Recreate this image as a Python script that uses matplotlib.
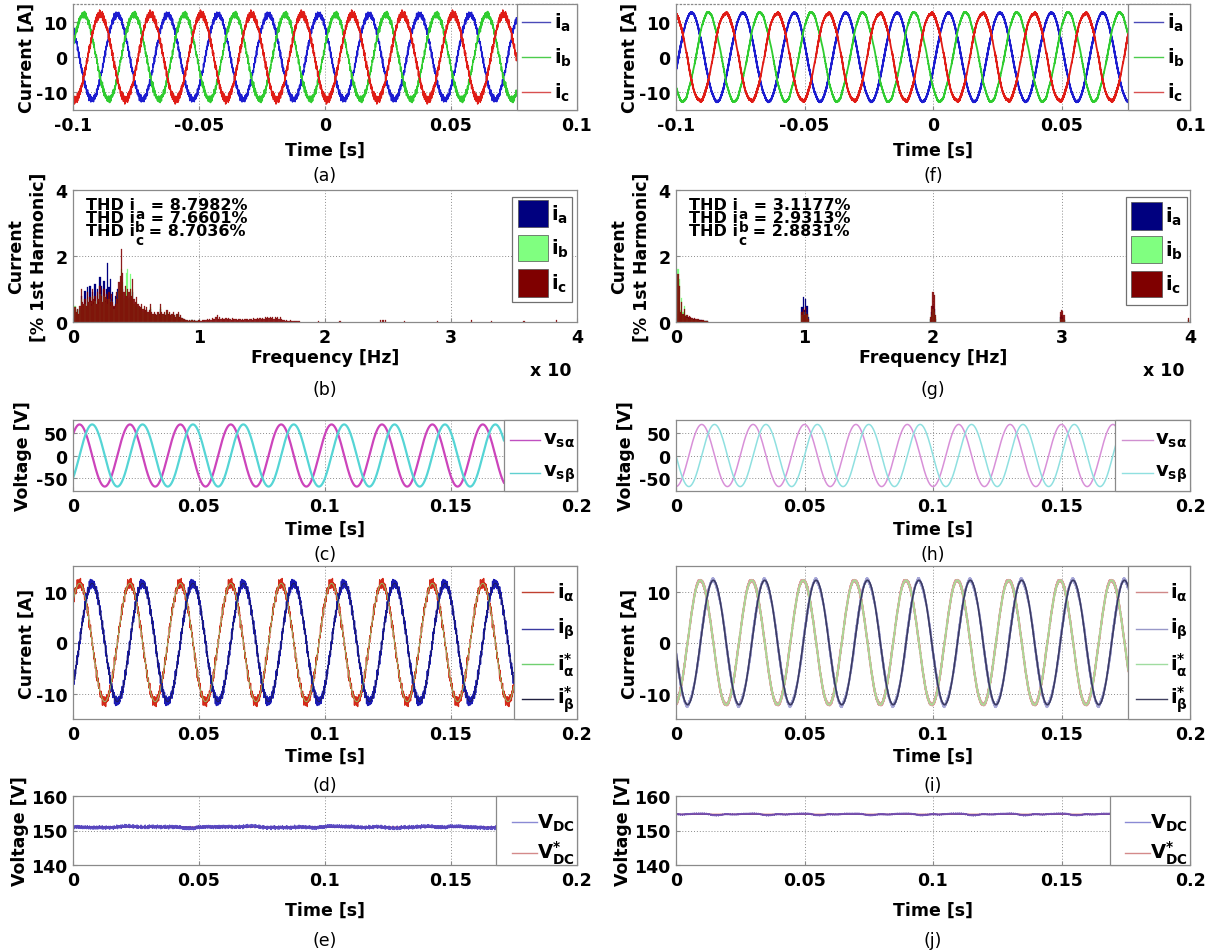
import numpy as np
import matplotlib
matplotlib.use('Agg')
import matplotlib.pyplot as plt
from matplotlib.patches import Rectangle
from matplotlib.lines import Line2D
from matplotlib.transforms import offset_copy

plt.rcParams['font.family'] = ['DejaVu Sans']
plt.rcParams['font.weight'] = 'bold'
plt.rcParams['axes.unicode_minus'] = False
plt.rcParams['mathtext.fontset'] = 'custom'
plt.rcParams['mathtext.rm'] = 'DejaVu Sans:bold'
plt.rcParams['mathtext.it'] = 'DejaVu Sans:bold'
plt.rcParams['mathtext.bf'] = 'DejaVu Sans:bold'
plt.rcParams['mathtext.sf'] = 'DejaVu Sans:bold'

# ----------------------------------------------------------------- data
F_FUND = 50.0            # Hz
DT = 1 / 40000.0         # sampling step [s]

# (a)/(f) three-phase currents: amplitude [A], time of i_a peak [s], end of trace [s]
AMP_A, PEAK_A, TEND_A = 12.0, -0.0025, 0.076
AMP_F, PEAK_F, TEND_F = 12.5, 0.0060, 0.076
# (c)/(h) alpha-beta voltages
AMP_VC, PEAK_VC, TEND_VC = 70.0, 0.0026, 0.171
AMP_VH, PEAK_VH, TEND_VH = 70.0, 0.0100, 0.171
# (d)/(i) alpha-beta currents
AMP_ID, PEAK_ID, TEND_ID = 11.6, 0.0026, 0.175
AMP_II, PEAK_II, TEND_II = 12.2, 0.0095, 0.176
# (e)/(j) DC-link voltage
VDC_E, TEND_E = 151.0, 0.168
VDC_J, TEND_J = 154.7, 0.169
VDC_E_RIP_F = [25, 60, 100, 1230, 1870, 2650, 3310, 4090, 4730, 5570, 6190, 7030, 7810, 8530]
VDC_E_RIP_A = [0.15, 0.12, 0.08, 0.12, 0.10, 0.12, 0.10, 0.09, 0.10, 0.08, 0.09, 0.08, 0.07, 0.07]
VDC_J_RIP_F = [50, 100, 150, 1370, 2290, 3530, 4610, 5890, 7170]
VDC_J_RIP_A = [0.18, 0.10, 0.06, 0.06, 0.05, 0.05, 0.05, 0.04, 0.04]

# (b) spectrum, % of 1st harmonic, 100 Hz bins starting at 0 Hz
BIN_W = 100.0
SPEC_B_A = [0.30, 0.40, 0.25, 0.35, 0.20, 0.40, 0.80, 0.50, 0.45, 0.95,
            0.40, 1.05, 0.50, 1.10, 0.55, 0.90, 0.60, 1.15, 0.45, 1.00,
            0.60, 1.35, 1.10, 0.50, 1.25, 0.65, 1.00, 1.80, 1.05, 1.30,
            0.70, 0.90, 0.45, 0.80, 0.75, 1.00, 0.90, 1.00, 1.30, 1.00,
            0.70, 0.80, 0.60, 0.70, 0.70, 0.75, 0.60, 0.90, 0.50, 0.45,
            0.55, 0.45, 0.40, 0.35, 0.40, 0.30, 0.35, 0.30, 0.35, 0.25,
            0.30, 0.40, 0.25, 0.20, 0.25, 0.20, 0.15, 0.25, 0.20, 0.40,
            0.25, 0.20, 0.25, 0.15, 0.25, 0.20, 0.25, 0.15, 0.20, 0.25,
            0.15, 0.12, 0.20, 0.25, 0.12, 0.15, 0.10, 0.08, 0.06, 0.05,
            0.04, 0.03, 0.04, 0.03, 0.05, 0.03, 0.04, 0.03, 0.03, 0.04]
SPEC_B_B = [0.45, 0.50, 0.30, 0.35, 0.25, 0.40, 0.70, 0.50, 0.45, 0.55,
            0.40, 0.70, 0.50, 0.60, 0.50, 0.80, 0.55, 0.65, 0.45, 0.70,
            0.55, 0.85, 0.65, 0.50, 0.80, 0.60, 0.70, 0.55, 0.70, 0.50,
            0.65, 0.50, 0.40, 0.45, 0.70, 0.55, 0.95, 1.10, 1.60, 1.20,
            0.70, 0.85, 1.50, 1.60, 0.70, 1.45, 0.65, 1.00, 0.55, 0.50,
            0.60, 0.45, 0.40, 0.35, 0.45, 0.30, 0.40, 0.30, 0.35, 0.25,
            0.30, 0.45, 0.25, 0.20, 0.25, 0.20, 0.15, 0.25, 0.20, 0.45,
            0.25, 0.20, 0.25, 0.15, 0.30, 0.20, 0.25, 0.15, 0.20, 0.25,
            0.15, 0.12, 0.20, 0.25, 0.12, 0.15, 0.10, 0.08, 0.06, 0.05,
            0.04, 0.04, 0.04, 0.03, 0.05, 0.04, 0.04, 0.03, 0.03, 0.04]
SPEC_B_C = [0.35, 0.45, 0.30, 0.40, 0.25, 0.50, 1.00, 0.60, 0.55, 0.70,
            0.50, 0.90, 0.60, 0.75, 0.65, 1.00, 0.70, 0.80, 0.55, 0.90,
            0.70, 1.10, 0.80, 0.60, 1.00, 0.75, 0.85, 0.70, 0.90, 0.60,
            0.85, 0.60, 0.50, 0.55, 0.90, 0.70, 1.20, 1.40, 2.20, 1.50,
            0.90, 1.10, 0.80, 1.00, 0.90, 1.00, 0.80, 1.30, 0.70, 0.60,
            0.75, 0.55, 0.50, 0.45, 0.55, 0.40, 0.50, 0.35, 0.45, 0.30,
            0.35, 0.55, 0.30, 0.25, 0.30, 0.25, 0.20, 0.30, 0.25, 0.55,
            0.30, 0.25, 0.30, 0.20, 0.35, 0.25, 0.30, 0.20, 0.25, 0.30,
            0.20, 0.15, 0.25, 0.30, 0.15, 0.20, 0.12, 0.10, 0.08, 0.06,
            0.05, 0.04, 0.05, 0.04, 0.06, 0.04, 0.05, 0.03, 0.04, 0.05,
            0.05, 0.04, 0.06, 0.05, 0.07, 0.05, 0.08, 0.06, 0.10, 0.07,
            0.12, 0.08, 0.10, 0.14, 0.22, 0.10, 0.15, 0.08, 0.12, 0.10,
            0.09, 0.13, 0.08, 0.12, 0.10, 0.07, 0.11, 0.09, 0.08, 0.10,
            0.07, 0.10, 0.08, 0.06, 0.09, 0.07, 0.10, 0.08, 0.09, 0.07,
            0.08, 0.10, 0.07, 0.12, 0.09, 0.10, 0.13, 0.10, 0.11, 0.09,
            0.12, 0.10, 0.14, 0.11, 0.15, 0.12, 0.16, 0.13, 0.14, 0.10,
            0.15, 0.12, 0.14, 0.10, 0.16, 0.08, 0.06, 0.05, 0.04, 0.05,
            0.04, 0.03, 0.05, 0.04, 0.03, 0.04, 0.03, 0.04, 0.03, 0.03]
SPEC_B_SPARSE_F = [19500, 21200, 24400, 24600, 24800, 26300, 28900, 31600, 33200, 35800, 38400]
SPEC_B_SPARSE_C = [0.04, 0.03, 0.07, 0.06, 0.05, 0.03, 0.04, 0.05, 0.03, 0.04, 0.05]

# (g) spectrum: low-frequency bins (100 Hz) and clusters around switching harmonics
SPEC_G_LOW_A = [0.20, 0.50, 0.35, 0.20, 0.30, 0.15, 0.20, 0.12, 0.14, 0.12, 0.10, 0.12, 0.10,
                0.08, 0.09, 0.07, 0.06, 0.07, 0.05, 0.05, 0.04, 0.04, 0.03, 0.03, 0.03]
SPEC_G_LOW_B = [0.30, 1.60, 1.30, 0.35, 0.72, 0.30, 0.48, 0.20, 0.12, 0.10, 0.10, 0.08, 0.08,
                0.06, 0.07, 0.05, 0.05, 0.05, 0.04, 0.04, 0.03, 0.03, 0.03, 0.02, 0.02]
SPEC_G_LOW_C = [0.25, 1.45, 1.10, 0.30, 0.62, 0.25, 0.40, 0.18, 0.20, 0.15, 0.17, 0.14, 0.12,
                0.10, 0.12, 0.09, 0.08, 0.10, 0.07, 0.06, 0.05, 0.05, 0.04, 0.04, 0.03]
SPEC_G_CL_F = [9800, 9900, 10000, 10100, 10200, 10300, 19800, 19900, 20000, 20100, 20200,
               29900, 30000, 30100, 30200, 39900]
SPEC_G_CL_A = [0.45, 0.75, 0.35, 0.70, 0.50, 0.15, 0.10, 0.30, 0.50, 0.40, 0.10, 0.15, 0.20, 0.15, 0.05, 0.05]
SPEC_G_CL_B = [0.20, 0.30, 0.20, 0.30, 0.20, 0.05, 0.10, 0.20, 0.40, 0.30, 0.15, 0.10, 0.10, 0.10, 0.05, 0.05]
SPEC_G_CL_C = [0.30, 0.40, 0.20, 0.45, 0.25, 0.10, 0.15, 0.50, 0.90, 0.82, 0.20, 0.30, 0.35, 0.32, 0.20, 0.12]

THD_B = ['8.7982%', '7.6601%', '8.7036%']
THD_G = ['3.1177%', '2.9313%', '2.8831%']
PHASES = ['a', 'b', 'c']

XT_ABC = [-0.1, -0.05, 0, 0.05, 0.1]
XT_ABC_L = ['-0.1', '-0.05', '0', '0.05', '0.1']
XT_T = [0, 0.05, 0.1, 0.15, 0.2]
XT_T_L = ['0', '0.05', '0.1', '0.15', '0.2']
XT_F = [0, 10000, 20000, 30000, 40000]
XT_F_L = ['0', '1', '2', '3', '4']
YT_I = [-10, 0, 10]
YT_V = [-50, 0, 50]
YT_H = [0, 2, 4]
YT_DC = [140, 150, 160]

# ----------------------------------------------------------------- helpers
W, H = 1221, 953
GOLD = 2.399963
FS = 12.5
LEG_FS = 14
THD_FS = 11.5

fig = plt.figure(figsize=(W / 100, H / 100), dpi=100)
fig.patch.set_facecolor('white')
RENDERER = fig.canvas.get_renderer()


def add_ax(x0, x1, y0, y1):
    return fig.add_axes([x0 / W, 1 - y1 / H, (x1 - x0) / W, (y1 - y0) / H])


def ftext(x, y, s, **kw):
    kw.setdefault('fontsize', FS)
    kw.setdefault('ha', 'center')
    kw.setdefault('va', 'center')
    fig.text(x / W, 1 - y / H, s, **kw)


def bins_to_fh(heights, start=0):
    h = np.asarray(heights, float)
    f = (np.arange(len(h)) + start) * BIN_W + BIN_W / 2
    return f, h


def ripple(t, amp, freqs, heights, offset):
    freqs = np.asarray(freqs, float)
    heights = np.asarray(heights, float)
    k = np.arange(len(freqs))
    ph = (k * k * GOLD + offset * 1.7) % (2 * np.pi)
    return amp / 100.0 * (heights[None, :] *
                          np.cos(2 * np.pi * np.outer(t, freqs) + ph[None, :])).sum(axis=1)


def ripple_abs(t, freqs, amps, offset):
    return ripple(t, 100.0, freqs, amps, offset)


def style(ax, xlim, ylim, xt, xtl, yt, ytl):
    ax.set_xlim(xlim)
    ax.set_ylim(ylim)
    ax.set_xticks(xt)
    ax.set_xticklabels(xtl, fontsize=FS, fontweight='bold')
    ax.set_yticks(yt)
    ax.set_yticklabels([str(v) for v in ytl], fontsize=FS, fontweight='bold')
    ax.grid(True, linestyle=(0, (1, 2)), color='#8c8c8c', lw=0.7)
    ax.set_axisbelow(True)
    for s in ax.spines.values():
        s.set_color('#8a8a8a')
        s.set_linewidth(0.9)
    ax.tick_params(direction='in', length=3, color='#8a8a8a', pad=4)


def side_legend(ax, x0, entries, ypos, l0=0.1, l1=0.55, tx=0.6, lw=1.0):
    w = 1 - x0
    ax.add_patch(Rectangle((x0, 0), w, 1, transform=ax.transAxes, facecolor='white',
                           edgecolor='#8a8a8a', lw=0.9, zorder=5, clip_on=False))
    for (lab, col), y in zip(entries, ypos):
        ax.add_line(Line2D([x0 + l0 * w, x0 + l1 * w], [y, y], transform=ax.transAxes,
                           color=col, lw=lw, zorder=6))
        ax.text(x0 + tx * w, y, lab, transform=ax.transAxes, fontsize=LEG_FS,
                va='center', ha='left', zorder=6)


def patch_legend(ax, box, patches, cols, labels):
    bx0, by0, bx1, by1 = box
    ax.add_patch(Rectangle((bx0, by0), bx1 - bx0, by1 - by0, transform=ax.transAxes,
                           facecolor='white', edgecolor='#707070', lw=0.9, zorder=5))
    for (px0, py0, px1, py1), c, lab in zip(patches, cols, labels):
        ax.add_patch(Rectangle((px0, py0), px1 - px0, py1 - py0, transform=ax.transAxes,
                               facecolor=c, edgecolor='#505050', lw=0.5, zorder=6))
        ax.text(px1 + 0.006, (py0 + py1) / 2, lab, transform=ax.transAxes, fontsize=LEG_FS,
                va='center', ha='left', zorder=6)


def thd_line(ax, x, y, sub, value):
    """'THD i' + low subscript letter + ' = value', MATLAB-like placement."""
    t1 = ax.text(x, y, 'THD i', transform=ax.transAxes, fontsize=THD_FS,
                 va='baseline', ha='left', zorder=6)
    bb = t1.get_window_extent(renderer=RENDERER)
    x0d = ax.transAxes.transform((x, y))[0]
    dx = (bb.x1 - x0d) * 72.0 / fig.dpi          # points
    tr_s = offset_copy(ax.transAxes, fig=fig, x=dx + 0.5, y=-6.5, units='points')
    ts = ax.text(x, y, sub, transform=tr_s, fontsize=THD_FS * 0.85,
                 va='baseline', ha='left', zorder=6)
    bs = ts.get_window_extent(renderer=RENDERER)
    dx2 = dx + 0.5 + bs.width * 72.0 / fig.dpi
    tr_v = offset_copy(ax.transAxes, fig=fig, x=dx2, y=0, units='points')
    ax.text(x, y, ' = ' + value, transform=tr_v, fontsize=THD_FS,
            va='baseline', ha='left', zorder=6)


LX = (73, 577)
RX = (676, 1190)
ROWS = [(5, 111), (191, 323), (421, 492), (567, 720), (797, 866)]

C_BLUE, C_GREEN, C_RED = '#1c1cd0', '#30cc30', '#e01c16'
S_BLUE, S_GREEN, S_RED = '#00007f', '#80ff80', '#7f0000'
ABC_LAB = [r'$\mathbf{i_a}$', r'$\mathbf{i_b}$', r'$\mathbf{i_c}$']

# ----------------------------------------------------------------- (a) / (f)
for col, (amp, peak, tend, cap, lw) in enumerate([
        (AMP_A, PEAK_A, TEND_A, '(a)', 1.0),
        (AMP_F, PEAK_F, TEND_F, '(f)', 1.3)]):
    X = LX if col == 0 else RX
    ax = add_ax(X[0], X[1], *ROWS[0])
    t = np.arange(-0.1, tend, DT)
    th = 2 * np.pi * F_FUND * (t - peak)
    if col == 0:
        fa, ha_ = bins_to_fh(SPEC_B_A[1:], 1)
        fb, hb_ = bins_to_fh(SPEC_B_B[1:], 1)
        fc, hc_ = bins_to_fh(SPEC_B_C[1:], 1)
    else:
        fl, _ = bins_to_fh(SPEC_G_LOW_A[1:], 1)
        fa = np.concatenate([fl, SPEC_G_CL_F]); ha_ = np.concatenate([SPEC_G_LOW_A[1:], SPEC_G_CL_A])
        fb = fa; hb_ = np.concatenate([SPEC_G_LOW_B[1:], SPEC_G_CL_B])
        fc = fa; hc_ = np.concatenate([SPEC_G_LOW_C[1:], SPEC_G_CL_C])
    ia = amp * np.cos(th) + ripple(t, amp, fa, ha_, 0)
    ib = amp * np.cos(th - 2 * np.pi / 3) + ripple(t, amp, fb, hb_, 1)
    ic = amp * np.cos(th + 2 * np.pi / 3) + ripple(t, amp, fc, hc_, 2)
    ax.plot(t, ia, color=C_BLUE, lw=lw)
    ax.plot(t, ib, color=C_GREEN, lw=lw)
    ax.plot(t, ic, color=C_RED, lw=lw)
    style(ax, (-0.1, 0.1), (-15, 15), XT_ABC, XT_ABC_L, YT_I, YT_I)
    ax.spines['top'].set_linestyle((0, (1, 2)))
    x0 = (tend + 0.1) / 0.2
    side_legend(ax, x0, list(zip(ABC_LAB, ['#4a4ab8', '#4ccc4c', '#d85050'])),
                [0.83, 0.5, 0.17], l0=0.09, l1=0.56, tx=0.62)
    xc = (X[0] + X[1]) / 2
    ftext(xc, 151, 'Time [s]', fontweight='bold')
    ftext(xc, 176, cap, fontweight='normal')
    ftext(X[0] - 46, (ROWS[0][0] + ROWS[0][1]) / 2, 'Current [A]', rotation=90, fontweight='bold')

# ----------------------------------------------------------------- (b) / (g)
for col in range(2):
    X = LX if col == 0 else RX
    ax = add_ax(X[0], X[1], *ROWS[1])
    if col == 0:
        fa, ha_ = bins_to_fh(SPEC_B_A)
        fb, hb_ = bins_to_fh(SPEC_B_B)
        fc, hc_ = bins_to_fh(SPEC_B_C)
        fc = np.concatenate([fc, SPEC_B_SPARSE_F]); hc_ = np.concatenate([hc_, SPEC_B_SPARSE_C])
        thd = THD_B
        box = (0.872, 0.15, 0.99, 0.945)
        pat = [(0.883, 0.718, 0.943, 0.924), (0.883, 0.461, 0.943, 0.662), (0.883, 0.189, 0.943, 0.403)]
        cap = '(b)'
    else:
        fl, _ = bins_to_fh(SPEC_G_LOW_A)
        fa = np.concatenate([fl, SPEC_G_CL_F]); ha_ = np.concatenate([SPEC_G_LOW_A, SPEC_G_CL_A])
        fb = fa; hb_ = np.concatenate([SPEC_G_LOW_B, SPEC_G_CL_B])
        fc = fa; hc_ = np.concatenate([SPEC_G_LOW_C, SPEC_G_CL_C])
        thd = THD_G
        box = (0.875, 0.13, 0.995, 0.945)
        pat = [(0.886, 0.70, 0.946, 0.91), (0.886, 0.445, 0.946, 0.65), (0.886, 0.19, 0.946, 0.39)]
        cap = '(g)'
    ax.bar(fa, ha_, width=BIN_W, color=S_BLUE, edgecolor=S_BLUE, lw=0.2, zorder=2)
    ax.bar(fb, hb_, width=BIN_W, color=S_GREEN, edgecolor=S_GREEN, lw=0.2, zorder=2.1)
    ax.bar(fc, hc_, width=BIN_W, color=S_RED, edgecolor=S_RED, lw=0.2, alpha=0.85, zorder=2.2)
    style(ax, (0, 40000), (0, 4), XT_F, XT_F_L, YT_H, YT_H)
    for i, (p, v) in enumerate(zip(PHASES, thd)):
        thd_line(ax, 0.025, 0.855 - 0.099 * i, p, v)
    patch_legend(ax, box, pat, [S_BLUE, S_GREEN, S_RED], ABC_LAB)
    xc = (X[0] + X[1]) / 2
    ftext(xc, 358, 'Frequency [Hz]', fontweight='bold')
    ftext(X[1] - 26, 371, 'x 10', fontweight='bold')
    ftext(xc, 390, cap, fontweight='normal')
    ym = (ROWS[1][0] + ROWS[1][1]) / 2
    ftext(X[0] - 57, ym, 'Current', rotation=90, fontweight='bold')
    ftext(X[0] - 34, ym, '[% 1st Harmonic]', rotation=90, fontweight='bold')

# ----------------------------------------------------------------- (c) / (h)
for col, (amp, peak, tend, cols, legc, lw, cap) in enumerate([
        (AMP_VC, PEAK_VC, TEND_VC, ('#cc44bb', '#55d5d5'), ('#c050c0', '#60d0d0'), 1.6, '(c)'),
        (AMP_VH, PEAK_VH, TEND_VH, ('#d890d8', '#8fe0e0'), ('#d090d0', '#90e0e0'), 1.1, '(h)')]):
    X = LX if col == 0 else RX
    ax = add_ax(X[0], X[1], *ROWS[2])
    t = np.arange(0, tend, DT)
    th = 2 * np.pi * F_FUND * (t - peak)
    ax.plot(t, amp * np.cos(th), color=cols[0], lw=lw)
    ax.plot(t, amp * np.sin(th), color=cols[1], lw=lw)
    style(ax, (0, 0.2), (-80, 80), XT_T, XT_T_L, YT_V, YT_V)
    side_legend(ax, tend / 0.2, [(r'$\mathbf{v_{s\alpha}}$', legc[0]), (r'$\mathbf{v_{s\beta}}$', legc[1])],
                [0.72, 0.25], l0=0.09, l1=0.5, tx=0.53)
    xc = (X[0] + X[1]) / 2
    ftext(xc, 530, 'Time [s]', fontweight='bold')
    ftext(xc, 555, cap, fontweight='normal')
    ftext(X[0] - 50, (ROWS[2][0] + ROWS[2][1]) / 2, 'Voltage [V]', rotation=90, fontweight='bold')

# ----------------------------------------------------------------- (d) / (i)
I_LAB = [r'$\mathbf{i_{\alpha}}$', r'$\mathbf{i_{\beta}}$',
         r'$\mathbf{i^{*}_{\alpha}}$', r'$\mathbf{i^{*}_{\beta}}$']
for col in range(2):
    X = LX if col == 0 else RX
    ax = add_ax(X[0], X[1], *ROWS[3])
    if col == 0:
        amp, peak, tend = AMP_ID, PEAK_ID, TEND_ID
        fa, ha_ = bins_to_fh(SPEC_B_A[1:], 1)
        fb, hb_ = bins_to_fh(SPEC_B_C[1:], 1)
        cols = ['#d42a1a', '#1a1ab4', '#8ccf6c', '#1c1c50']
        legc = ['#c04030', '#3a3aa0', '#70d070', '#202040']
        lws = [0.9, 0.9, 0.6, 0.6]
        cap = '(d)'
    else:
        amp, peak, tend = AMP_II, PEAK_II, TEND_II
        fl, _ = bins_to_fh(SPEC_G_LOW_A[1:], 1)
        fa = np.concatenate([fl, SPEC_G_CL_F]); ha_ = np.concatenate([SPEC_G_LOW_A[1:], SPEC_G_CL_A])
        fb = fa; hb_ = np.concatenate([SPEC_G_LOW_C[1:], SPEC_G_CL_C])
        cols = ['#dca0a0', '#a8a8d8', '#a8dc94', '#3a3a62']
        legc = ['#d08888', '#9898c8', '#a0dca0', '#404060']
        lws = [1.5, 1.5, 1.2, 1.2]
        cap = '(i)'
    t = np.arange(0, tend, DT)
    th = 2 * np.pi * F_FUND * (t - peak)
    ial = amp * np.cos(th) + ripple(t, amp, fa, ha_, 3)
    ibe = amp * np.sin(th) + ripple(t, amp, fb, hb_, 4)
    ax.plot(t, ial, color=cols[0], lw=lws[0])
    ax.plot(t, ibe, color=cols[1], lw=lws[1])
    ax.plot(t, amp * np.cos(th), color=cols[2], lw=lws[2])
    ax.plot(t, amp * np.sin(th), color=cols[3], lw=lws[3])
    style(ax, (0, 0.2), (-15, 15), XT_T, XT_T_L, YT_I, YT_I)
    side_legend(ax, tend / 0.2, list(zip(I_LAB, legc)), [0.83, 0.59, 0.36, 0.13],
                l0=0.12, l1=0.62, tx=0.68)
    xc = (X[0] + X[1]) / 2
    ftext(xc, 757, 'Time [s]', fontweight='bold')
    ftext(xc, 786, cap, fontweight='normal')
    ftext(X[0] - 46, (ROWS[3][0] + ROWS[3][1]) / 2, 'Current [A]', rotation=90, fontweight='bold')

# ----------------------------------------------------------------- (e) / (j)
for col in range(2):
    X = LX if col == 0 else RX
    ax = add_ax(X[0], X[1], *ROWS[4])
    if col == 0:
        v0, tend, rf, ra, lc, cap = VDC_E, TEND_E, VDC_E_RIP_F, VDC_E_RIP_A, '#4a3cc0', '(e)'
    else:
        v0, tend, rf, ra, lc, cap = VDC_J, TEND_J, VDC_J_RIP_F, VDC_J_RIP_A, '#6a48b0', '(j)'
    t = np.arange(0, tend, DT)
    ax.plot(t, np.full_like(t, v0), color='#c04040', lw=0.8)
    ax.plot(t, v0 + ripple_abs(t, rf, ra, 5 + col), color=lc, lw=0.9, alpha=0.9)
    style(ax, (0, 0.2), (140, 160), XT_T, XT_T_L, YT_DC, YT_DC)
    side_legend(ax, tend / 0.2, [(r'$\mathbf{V_{DC}}$', '#8a8ad4'), (r'$\mathbf{V^{*}_{DC}}$', '#d48a8a')],
                [0.62, 0.18], l0=0.19, l1=0.5, tx=0.5)
    xc = (X[0] + X[1]) / 2
    ftext(xc, 911, 'Time [s]', fontweight='bold')
    ftext(xc, 941, cap, fontweight='normal')
    ftext(X[0] - 53, (ROWS[4][0] + ROWS[4][1]) / 2, 'Voltage [V]', rotation=90, fontweight='bold')

fig.savefig('out.png', dpi=100, facecolor='white')
